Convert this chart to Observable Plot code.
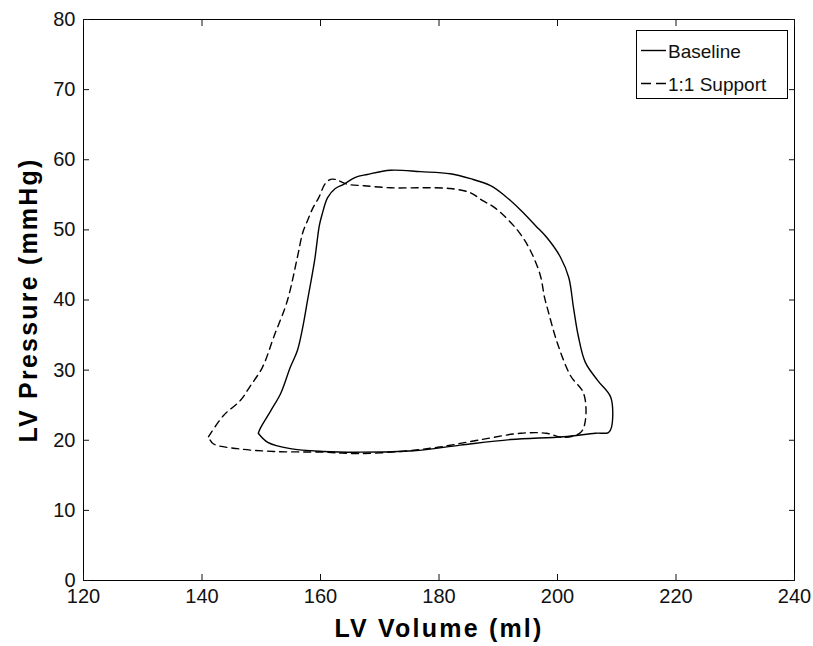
<!DOCTYPE html>
<html>
<head>
<meta charset="utf-8">
<script src="https://cdn.jsdelivr.net/npm/d3@7"></script>
<script src="https://cdn.jsdelivr.net/npm/@observablehq/plot@0.6"></script>
<style>
  html, body { margin: 0; padding: 0; background: #fff; }
  #wrap { position: relative; width: 813px; height: 646px; font-family: "Liberation Sans", Arial, sans-serif; }
  #wrap svg.plot text { font-family: "Liberation Sans", Arial, sans-serif; }
  #wrap .axislabel text { font-weight: bold; font-size: 25px; letter-spacing: 2.2px; fill: #000; }
  #legend { position: absolute; left: 636px; top: 30px; }
</style>
</head>
<body>
<div id="wrap"></div>
<script>
const baselineVolume = [149.5, 149.9, 151.6, 153.3, 154.9, 156.1, 157.0, 157.8, 159.0, 159.8, 160.3, 161.2, 162.5, 163.9, 165.9, 167.9, 171.8, 176.9, 181.9, 185.3, 188.7, 191.2, 193.8, 196.3, 198.3, 200.5, 201.9, 202.7, 203.5, 204.7, 206.8, 209.0, 209.1, 208.6, 206.4, 201.0, 192.1, 183.6, 175.7, 166.8, 160.5, 154.9, 151.1, 149.5];
const baselinePressure = [21.0, 21.8, 24.2, 26.7, 30.4, 32.8, 36.1, 39.9, 45.6, 50.6, 52.3, 54.6, 55.9, 56.5, 57.5, 57.9, 58.5, 58.3, 58.0, 57.3, 56.3, 54.8, 52.8, 50.6, 48.8, 46.1, 43.2, 38.9, 34.9, 31.1, 28.5, 26.1, 21.8, 21.1, 21.0, 20.5, 20.1, 19.3, 18.5, 18.3, 18.4, 18.8, 19.7, 21.0];
const supportVolume = [141.1, 143.6, 146.5, 148.2, 150.2, 152.1, 154.4, 156.1, 157.0, 157.8, 158.7, 159.7, 160.8, 161.7, 162.5, 164.6, 167.3, 171.8, 176.9, 181.9, 185.3, 187.3, 189.5, 193.3, 195.4, 197.1, 197.8, 198.3, 200.0, 202.2, 204.4, 204.7, 203.9, 201.0, 198.1, 193.8, 186.5, 179.8, 173.5, 166.2, 160.5, 152.1, 146.0, 141.9, 141.1];
const supportPressure = [20.5, 23.5, 25.7, 27.8, 30.4, 34.7, 39.9, 46.1, 49.6, 51.3, 53.1, 54.6, 56.6, 57.2, 57.2, 56.5, 56.3, 56.0, 56.0, 55.9, 55.3, 54.2, 53.1, 49.9, 47.1, 43.5, 40.4, 38.8, 33.8, 29.2, 26.7, 22.8, 21.1, 20.4, 21.0, 21.0, 20.0, 19.0, 18.4, 18.1, 18.3, 18.4, 18.8, 19.5, 20.5];
const xTicks = [120, 140, 160, 180, 200, 220, 240];
const yTicks = [0, 10, 20, 30, 40, 50, 60, 70, 80];
const seriesNames = ["Baseline", "1:1 Support"];
const xLabel = "LV Volume (ml)";
const yLabel = "LV Pressure (mmHg)";

const baseline = baselineVolume.map((v, i) => ({volume: v, pressure: baselinePressure[i]}));
const support = supportVolume.map((v, i) => ({volume: v, pressure: supportPressure[i]}));

const chart = Plot.plot({
  width: 813,
  height: 646,
  marginLeft: 83,
  marginRight: 19,
  marginTop: 19,
  marginBottom: 66,
  className: "plot",
  style: {fontSize: "20px", color: "#111", background: "#fff", fontFamily: "Liberation Sans, Arial, sans-serif"},
  x: {domain: [120, 240]},
  y: {domain: [0, 80]},
  marks: [
    Plot.frame({stroke: "#000", strokeWidth: 1}),
    Plot.axisX(xTicks, {anchor: "bottom", tickSize: -6, tickPadding: 14, label: null}),
    Plot.axisX(xTicks, {anchor: "top", tickSize: -6, tickFormat: () => "", label: null}),
    Plot.axisY(yTicks, {anchor: "left", tickSize: -6, tickPadding: 14, label: null}),
    Plot.axisY(yTicks, {anchor: "right", tickSize: -6, tickFormat: () => "", label: null}),
    Plot.text([xLabel], {text: d => d, frameAnchor: "bottom", textAnchor: "middle", dy: 56, className: "axislabel"}),
    Plot.text([yLabel], {text: d => d, frameAnchor: "left", textAnchor: "middle", dx: -55, rotate: -90, className: "axislabel"}),
    Plot.line(baseline, {x: "volume", y: "pressure", stroke: "#000", strokeWidth: 1.4, curve: "catmull-rom"}),
    Plot.line(support, {x: "volume", y: "pressure", stroke: "#000", strokeWidth: 1.4, strokeDasharray: "7,5", curve: "catmull-rom"})
  ]
});

const wrap = document.getElementById("wrap");
wrap.appendChild(chart);

// Legend box (overlay, MATLAB style)
const ns = "http://www.w3.org/2000/svg";
const leg = document.createElementNS(ns, "svg");
leg.setAttribute("id", "legend");
leg.setAttribute("width", 152);
leg.setAttribute("height", 69);
leg.innerHTML = `
  <rect x="0.5" y="0.5" width="151" height="68" fill="#fff" stroke="#000" stroke-width="1"/>
  <line x1="5" x2="30" y1="20.5" y2="20.5" stroke="#000" stroke-width="1.4"/>
  <line x1="5" x2="30" y1="53.5" y2="53.5" stroke="#000" stroke-width="1.4" stroke-dasharray="10,5"/>
  <text x="32" y="28" font-family="Liberation Sans, Arial, sans-serif" font-size="19" fill="#111">${seriesNames[0]}</text>
  <text x="32" y="61" font-family="Liberation Sans, Arial, sans-serif" font-size="19" fill="#111">${seriesNames[1]}</text>`;
wrap.appendChild(leg);
</script>
</body>
</html>
